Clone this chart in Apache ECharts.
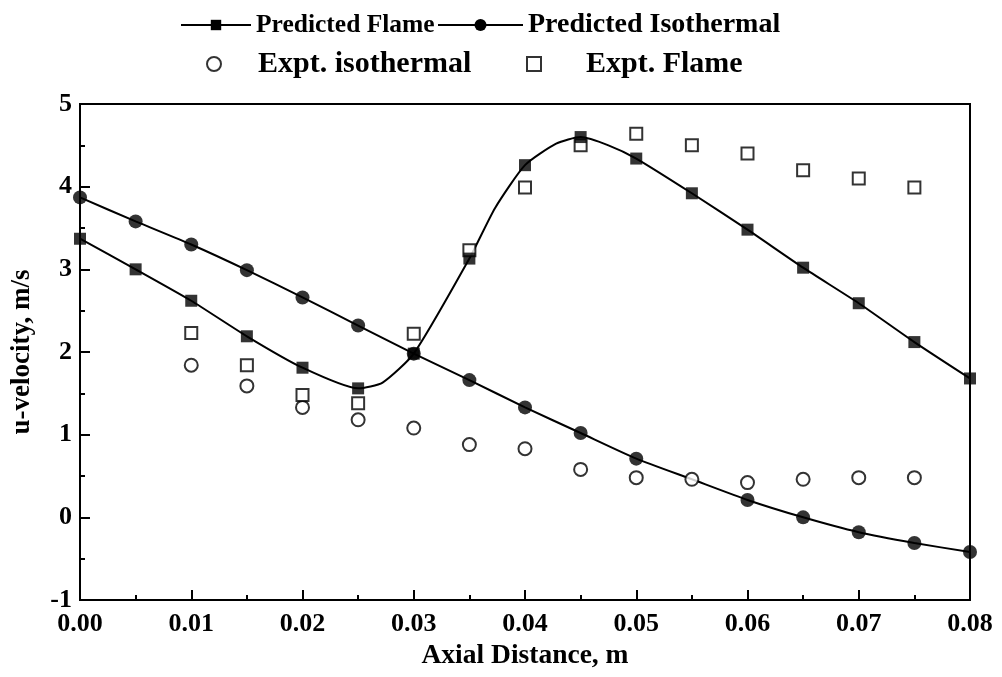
<!DOCTYPE html>
<html>
<head>
<meta charset="utf-8">
<script src="https://cdn.jsdelivr.net/npm/echarts@6/dist/echarts.min.js"></script>
<style>html,body{margin:0;padding:0;background:#fff;}#c{width:1002px;height:677px;}</style>
</head>
<body>
<div id="c"></div>
<script>
// Predicted Flame (filled squares)
const flameX = [0.000, 0.005, 0.010, 0.015, 0.020, 0.025, 0.030, 0.035, 0.040, 0.045, 0.050, 0.055, 0.060, 0.065, 0.070, 0.075, 0.080];
const flameY = [3.37, 3.00, 2.62, 2.19, 1.81, 1.56, 1.98, 3.13, 4.26, 4.60, 4.34, 3.92, 3.48, 3.02, 2.59, 2.12, 1.68];
// extra unmarked points on the predicted flame curve
const flameExtraX = [0.0272, 0.0373, 0.0428, 0.0475];
const flameExtraY = [1.63, 3.74, 4.52, 4.50];

// Predicted Isothermal (filled circles)
const isoX = [0.000, 0.005, 0.010, 0.015, 0.020, 0.025, 0.030, 0.035, 0.040, 0.045, 0.050, 0.060, 0.065, 0.070, 0.075, 0.080];
const isoY = [3.87, 3.58, 3.30, 2.99, 2.66, 2.32, 1.98, 1.66, 1.33, 1.02, 0.71, 0.21, 0.00, -0.18, -0.31, -0.42];
const isoExtraX = [0.055];
const isoExtraY = [0.46];

// Expt. isothermal (open circles)
const exIsoX = [0.010, 0.015, 0.020, 0.025, 0.030, 0.035, 0.040, 0.045, 0.050, 0.055, 0.060, 0.065, 0.070, 0.075];
const exIsoY = [1.84, 1.59, 1.33, 1.18, 1.08, 0.88, 0.83, 0.58, 0.48, 0.46, 0.42, 0.46, 0.48, 0.48];

// Expt. Flame (open squares)
const exFlameX = [0.010, 0.015, 0.020, 0.025, 0.030, 0.035, 0.040, 0.045, 0.050, 0.055, 0.060, 0.065, 0.070, 0.075];
const exFlameY = [2.23, 1.84, 1.48, 1.38, 2.22, 3.23, 3.99, 4.50, 4.64, 4.50, 4.40, 4.20, 4.10, 3.99];

const xTicks = ['0.00','0.01','0.02','0.03','0.04','0.05','0.06','0.07','0.08'];

function pairs(xs, ys){ return xs.map((x,i)=>[x, ys[i]]); }
function merged(xs, ys, ex, ey){ return pairs(xs,ys).concat(pairs(ex,ey)).sort((a,b)=>a[0]-b[0]); }

const FONT = '"Liberation Serif","Times New Roman",serif';
const chart = echarts.init(document.getElementById('c'), null, {renderer:'canvas'});

function legendOf(name, left, top, w, h, padLeft, fs){
  return {
    data: [name], left: left, top: top, itemWidth: w, itemHeight: h,
    orient: 'horizontal', padding: 0, itemGap: 0, selectedMode: false,
    textStyle: {fontFamily: FONT, fontWeight: 'bold', fontSize: fs, color: '#000', padding: [0,0,0,padLeft]}
  };
}

chart.setOption({
  animation: false,
  backgroundColor: '#fff',
  legend: [
    legendOf('Predicted Flame', 180, 12, 70, 13, 0, 25.5),
    legendOf('Predicted Isothermal', 437, 11, 85, 15, 0, 28),
    legendOf('Expt. isothermal', 206, 49, 14, 14, 32, 30),
    legendOf('Expt. Flame', 526, 49, 14, 14, 40, 30)
  ],
  grid: {left: 80, right: 32, top: 104, bottom: 77, show: true, borderColor: '#000', borderWidth: 2, backgroundColor: 'transparent'},
  xAxis: {
    type: 'value', min: 0, max: 0.08, interval: 0.01,
    name: 'Axial Distance, m', nameLocation: 'middle', nameGap: 41,
    nameTextStyle: {fontFamily: FONT, fontWeight: 'bold', fontSize: 27.5, color: '#000'},
    axisLine: {show: true, onZero: false, lineStyle: {color: '#000', width: 2}},
    axisTick: {show: true, inside: true, length: 10, lineStyle: {color: '#000', width: 2}},
    minorTick: {show: true, splitNumber: 2, length: 5, lineStyle: {color: '#000', width: 2}},
    splitLine: {show: false},
    axisLabel: {margin: 11, fontFamily: FONT, fontWeight: 'bold', fontSize: 26, color: '#000',
      formatter: (v)=> xTicks[Math.round(v*100)] }
  },
  yAxis: {
    type: 'value', min: -1, max: 5, interval: 1,
    name: 'u-velocity, m/s', nameLocation: 'middle', nameGap: 44, nameRotate: 90,
    nameTextStyle: {fontFamily: FONT, fontWeight: 'bold', fontSize: 27, color: '#000'},
    axisLine: {show: true, onZero: false, lineStyle: {color: '#000', width: 2}},
    axisTick: {show: true, inside: true, length: 10, lineStyle: {color: '#000', width: 2}},
    minorTick: {show: true, splitNumber: 2, length: 5, lineStyle: {color: '#000', width: 2}},
    splitLine: {show: false},
    axisLabel: {margin: 8, fontFamily: FONT, fontWeight: 'bold', fontSize: 26, color: '#000'}
  },
  series: [
    {
      name: 'Predicted Flame', type: 'line', smooth: 0.2,
      symbol: 'rect', symbolSize: 12, showSymbol: false,
      data: merged(flameX, flameY, flameExtraX, flameExtraY),
      lineStyle: {color: '#000', width: 2}, itemStyle: {color: '#000'}, z: 2
    },
    {
      name: 'Predicted Flame pts', type: 'scatter', symbol: 'rect', symbolSize: 12,
      data: pairs(flameX, flameY), itemStyle: {color: '#000'}, z: 4
    },
    {
      name: 'Predicted Isothermal', type: 'line', smooth: 0.2,
      symbol: 'circle', symbolSize: 14, showSymbol: false,
      data: merged(isoX, isoY, isoExtraX, isoExtraY),
      lineStyle: {color: '#000', width: 2}, itemStyle: {color: '#000'}, z: 2
    },
    {
      name: 'Predicted Isothermal pts', type: 'scatter', symbol: 'circle', symbolSize: 14,
      data: pairs(isoX, isoY), itemStyle: {color: '#000'}, z: 4
    },
    {
      name: 'Expt. isothermal', type: 'scatter', symbol: 'circle', symbolSize: 13,
      data: pairs(exIsoX, exIsoY),
      itemStyle: {color: '#fff', borderColor: '#000', borderWidth: 2}, z: 3
    },
    {
      name: 'Expt. Flame', type: 'scatter', symbol: 'rect', symbolSize: 12,
      data: pairs(exFlameX, exFlameY),
      itemStyle: {color: '#fff', borderColor: '#000', borderWidth: 2}, z: 3
    }
  ]
});
</script>
</body>
</html>
